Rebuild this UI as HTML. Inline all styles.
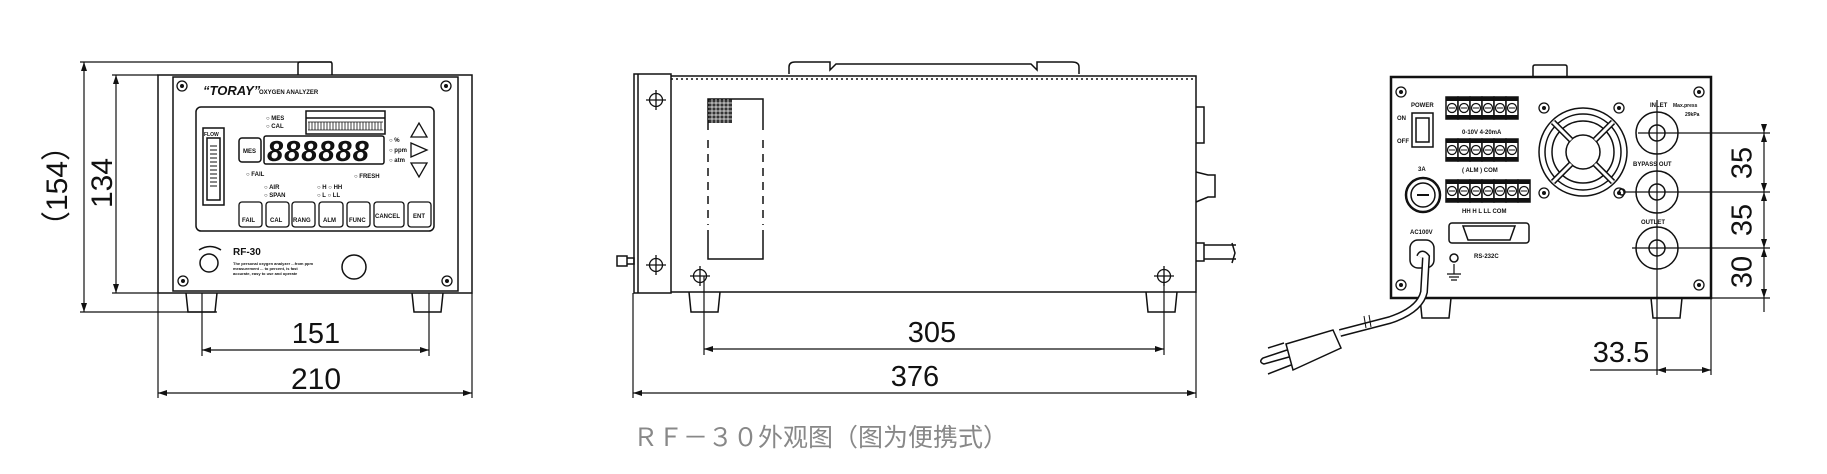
<!DOCTYPE html>
<html><head><meta charset="utf-8"><style>
html,body{margin:0;padding:0;background:#fff;width:1827px;height:474px;overflow:hidden}
svg{display:block}
text{font-family:"Liberation Sans","Noto Sans CJK SC",sans-serif}
</style></head><body>
<svg width="1827" height="474" viewBox="0 0 1827 474" xmlns="http://www.w3.org/2000/svg">
<defs>
<g id="scr"><circle r="5" fill="none" stroke="#111" stroke-width="1.3"/><circle r="2" fill="#111"/></g>
<g id="xs"><circle r="6.5" fill="none" stroke="#111" stroke-width="1.3"/><line x1="-10" y1="0" x2="10" y2="0" stroke="#111" stroke-width="1.3"/><line x1="0" y1="-10" x2="0" y2="10" stroke="#111" stroke-width="1.3"/></g>
<g id="term"><rect x="0" y="0" width="12" height="22" fill="#fff" stroke="#111" stroke-width="1.5"/><rect x="0" y="0" width="12" height="4" fill="#111"/><rect x="0" y="18" width="12" height="4" fill="#111"/><circle cx="6" cy="11" r="4.5" fill="#fff" stroke="#111" stroke-width="1.3"/><line x1="3" y1="11" x2="9" y2="11" stroke="#111"/></g>
</defs>
<g fill="none" stroke="#111" stroke-width="1.5">
<!-- FRONT VIEW -->
<path d="M298 75 V64 Q298 62 300 62 H330 Q332 62 332 64 V75"/>
<rect x="158" y="75" width="314" height="218"/>
<rect x="173" y="77" width="285" height="214"/>
<rect x="196" y="107" width="238" height="124" rx="5"/>
<path d="M186 293 L188 312 H215 L217 293 M412 293 L414 312 H441 L443 293"/>
<rect x="264" y="136" width="120" height="28" rx="2"/>
<rect x="239" y="138" width="22" height="24" rx="3"/>
<rect x="306" y="111" width="79" height="23"/>
<line x1="306" y1="118" x2="385" y2="118"/>
<rect x="203" y="128" width="21" height="77"/>
<rect x="207" y="138" width="13" height="62"/>
<path d="M411 137 L419 123 L427 137 Z M411 143 L427 150 L411 157 Z M411 163 L427 163 L419 177 Z" stroke-width="1.3"/>
<g stroke-width="1.3">
<rect x="239" y="202" width="23" height="25" rx="3"/><rect x="266" y="202" width="23" height="25" rx="3"/>
<rect x="292" y="202" width="23" height="25" rx="3"/><rect x="319" y="202" width="24" height="25" rx="3"/>
<rect x="347" y="202" width="23" height="25" rx="3"/><rect x="374" y="202" width="30" height="25" rx="3"/>
<rect x="408" y="202" width="23" height="25" rx="3"/>
</g>
<circle cx="209" cy="263" r="9"/><path d="M199 250 Q210 243 221 250"/>
<circle cx="354" cy="267" r="12"/>
<g stroke-width="1.2">
<path d="M80 62 H332 M80 312 H217 M112 75 H158 M112 293 H158"/>
<path d="M84 62 V312 M116 75 V293"/>
<path d="M202 293 V356 M429 293 V356 M202 350 H429"/>
<path d="M158 293 V398 M472 293 V398 M158 393 H472"/>
</g>
</g>
<path d="M308 122 H383 M308 130 H383" stroke="#111" stroke-width="0.8"/>
<path d="M309 122 V130 M312 122 V130 M315 122 V130 M318 122 V130 M321 122 V130 M324 122 V130 M327 122 V130 M330 122 V130 M333 122 V130 M336 122 V130 M339 122 V130 M342 122 V130 M345 122 V130 M348 122 V130 M351 122 V130 M354 122 V130 M357 122 V130 M360 122 V130 M363 122 V130 M366 122 V130 M369 122 V130 M372 122 V130 M375 122 V130 M378 122 V130 M381 122 V130" stroke="#111" stroke-width="0.8"/>
<path d="M210 146 H217 M210 150 H217 M210 154 H217 M210 158 H217 M210 162 H217 M210 166 H217 M210 170 H217 M210 174 H217 M210 178 H217 M210 182 H217 M210 186 H217" stroke="#111" stroke-width="1"/>
<g fill="#111">
<path d="M84 62 l-3 9 h6z M84 312 l-3 -9 h6z M116 75 l-3 9 h6z M116 293 l-3 -9 h6z"/>
<path d="M202 350 l9 -3 v6z M429 350 l-9 -3 v6z M158 393 l9 -3 v6z M472 393 l-9 -3 v6z"/>
</g>
<use href="#scr" x="182" y="86"/><use href="#scr" x="446" y="86"/><use href="#scr" x="183" y="281"/><use href="#scr" x="447" y="281"/>
<g fill="#111" font-weight="bold">
<text x="203" y="95" font-size="13" font-style="italic">“TORAY”</text>
<text x="259" y="94" font-size="6">OXYGEN ANALYZER</text>
<text x="266" y="120" font-size="6">○ MES</text><text x="266" y="128" font-size="6">○ CAL</text>
<text x="243" y="153" font-size="6">MES</text>
<text x="267" y="161" font-size="29" font-style="italic" letter-spacing="1">888888</text>
<text x="204" y="136" font-size="5">FLOW</text>
<text x="389" y="142" font-size="6">○ %</text><text x="389" y="152" font-size="6">○ ppm</text><text x="389" y="162" font-size="6">○ atm</text>
<text x="246" y="176" font-size="6">○ FAIL</text><text x="354" y="178" font-size="6">○ FRESH</text>
<text x="264" y="189" font-size="6">○ AIR</text><text x="264" y="197" font-size="6">○ SPAN</text>
<text x="317" y="189" font-size="6">○ H ○ HH</text><text x="317" y="197" font-size="6">○ L ○ LL</text>
<text x="242" y="222" font-size="6">FAIL</text><text x="270" y="222" font-size="6">CAL</text><text x="293" y="222" font-size="6">RANG</text>
<text x="323" y="222" font-size="6">ALM</text><text x="349" y="222" font-size="6">FUNC</text><text x="375" y="218" font-size="6">CANCEL</text><text x="413" y="218" font-size="6">ENT</text>
<text x="233" y="255" font-size="10">RF-30</text>
<text x="233" y="265" font-size="4">The personal oxygen analyzer ...from ppm</text>
<text x="233" y="270" font-size="4">measurement ... to percent, is fast</text>
<text x="233" y="275" font-size="4">accurate, easy to use and operate</text>
</g>
<g fill="#111">
<text x="59" y="186" font-size="30" text-anchor="middle" transform="rotate(-90 59 186)" dominant-baseline="middle">（154）</text>
<text x="104" y="183" font-size="30" text-anchor="middle" transform="rotate(-90 104 183)" dominant-baseline="middle">134</text>
<text x="316" y="343" font-size="29" text-anchor="middle">151</text>
<text x="316" y="389" font-size="30" text-anchor="middle">210</text>
</g>

<!-- SIDE VIEW -->
<g fill="none" stroke="#111" stroke-width="1.5">
<path d="M789 74 V67 Q789 62 795 62 H830 V70 L836 64 H1031 L1037 70 V62 H1072 Q1079 62 1079 67 V74"/>
<rect x="634" y="74" width="37" height="219"/>
<line x1="638" y1="74" x2="638" y2="293"/>
<path d="M671 76 H1196 V292 H671"/>
<line x1="671" y1="79" x2="1196" y2="79" stroke-dasharray="2 3" stroke-width="1.5"/>
<path d="M708 230 V259 H763 V230 M708 130 V99 H763 V130"/>
<path d="M708 140 V225 M763 140 V225" stroke-dasharray="8 6"/>
<path d="M617 256 h10 v10 h-10z M627 258 h7 v6 h-7"/>
<path d="M1196 107 h8 v36 h-8 M1196 172 l12 3 h7 v22 h-7 l-12 5 M1196 243 h8 v18 h-8 M1204 245 h32 M1204 259 h32 M1232 243 l3 10 l-3 10"/>
<path d="M689 292 L691 312 H718 L720 292 M1146 292 L1148 312 H1175 L1177 292"/>
<g stroke-width="1.2">
<path d="M704 276 V355 M1164 276 V355 M704 349 H1164"/>
<path d="M633 293 V398 M1196 292 V398 M633 393 H1196"/>
</g>
</g>
<g fill="#111">
<rect x="708" y="99" width="24" height="24" opacity="0.85"/>
<path d="M704 349 l9 -3 v6z M1164 349 l-9 -3 v6z M633 393 l9 -3 v6z M1196 393 l-9 -3 v6z"/>
</g>
<g stroke="#fff" stroke-width="0.7"><path d="M708 103 H732 M708 107 H732 M708 111 H732 M708 115 H732 M708 119 H732 M712 99 V123 M716 99 V123 M720 99 V123 M724 99 V123 M728 99 V123"/></g>
<use href="#xs" x="656" y="100"/><use href="#xs" x="656" y="265"/><use href="#xs" x="700" y="276"/><use href="#xs" x="1164" y="276"/>
<text x="932" y="342" font-size="29" text-anchor="middle" fill="#111">305</text>
<text x="915" y="386" font-size="29" text-anchor="middle" fill="#111">376</text>
<text x="633" y="446" font-size="25" fill="#888">ＲＦ－３０外观图（图为便携式）</text>

<!-- BACK VIEW -->
<g fill="none" stroke="#111" stroke-width="1.5">
<path d="M1533 77 V67 Q1533 65 1535 65 H1565 Q1567 65 1567 67 V77"/>
<rect x="1391" y="77" width="320" height="221" stroke-width="2.5"/>
<path d="M1420 298 L1422 318 H1449 L1451 298 M1651 298 L1653 318 H1680 L1682 298"/>
<rect x="1412" y="113" width="21" height="34"/><rect x="1416" y="118" width="13" height="24"/>
<circle cx="1423" cy="195" r="17" stroke-width="2.5"/><circle cx="1423" cy="195" r="12"/>
<path d="M1417 195 H1429" stroke-width="2"/>
<rect x="1410" y="240" width="24" height="28" rx="8"/>
<path d="M1420 257 Q1422 252 1426 257 L1424 292 Q1420 310 1390 320 L1340 333" stroke-width="8"/>
<path d="M1420 257 Q1422 252 1426 257 L1424 292 Q1420 310 1390 320 L1340 333" stroke="#fff" stroke-width="5"/>
<path d="M1364 316 l2 12 M1369 315 l2 12" stroke-width="1"/>
<path d="M1286 344 L1333 330 L1341 348 L1293 370 Z"/>
<path d="M1287 350 L1263 358 Q1258 362 1264 364 L1289 357 M1284 343 L1268 348 M1291 365 L1268 374"/>
<rect x="1449" y="223" width="80" height="20" rx="3"/><path d="M1463 226 H1515 L1510 240 H1468 Z"/>
<circle cx="1454" cy="258" r="4"/><path d="M1454 264 V274 M1447 274 H1461 M1449 277 H1459 M1451 280 H1457" stroke-width="1.2"/>
<circle cx="1583" cy="152" r="44"/><circle cx="1583" cy="152" r="38"/><circle cx="1583" cy="152" r="31"/><circle cx="1583" cy="152" r="17"/>
<path d="M1553 122 L1571 140 M1613 122 L1595 140 M1553 182 L1571 164 M1613 182 L1595 164" stroke-width="6"/>
<path d="M1553 122 L1571 140 M1613 122 L1595 140 M1553 182 L1571 164 M1613 182 L1595 164" stroke="#fff" stroke-width="3"/>
<circle cx="1657" cy="133" r="21"/><circle cx="1657" cy="133" r="8"/>
<circle cx="1657" cy="192" r="21"/><circle cx="1657" cy="192" r="8"/>
<circle cx="1657" cy="248" r="21"/><circle cx="1657" cy="248" r="8"/>
<circle cx="1622" cy="192" r="3"/>
<g stroke-width="1.2">
<path d="M1638 133 H1770 M1625 192 H1770 M1632 248 H1770 M1711 298 H1770"/>
<path d="M1657 100 V375 M1711 298 V375 M1764 125 V312 M1590 370 H1711"/>
</g>
</g>
<g fill="#111">
<path d="M1764 133 l-3 9 h6z M1764 133 l-3 -9 h6z M1764 192 l-3 9 h6z M1764 192 l-3 -9 h6z M1764 248 l-3 9 h6z M1764 248 l-3 -9 h6z M1764 298 l-3 -9 h6z"/>
<path d="M1657 370 l9 -3 v6z M1711 370 l-9 -3 v6z"/>
</g>
<g>
<use href="#term" x="1446" y="97"/><use href="#term" x="1458" y="97"/><use href="#term" x="1470" y="97"/><use href="#term" x="1482" y="97"/><use href="#term" x="1494" y="97"/><use href="#term" x="1506" y="97"/>
<use href="#term" x="1446" y="139"/><use href="#term" x="1458" y="139"/><use href="#term" x="1470" y="139"/><use href="#term" x="1482" y="139"/><use href="#term" x="1494" y="139"/><use href="#term" x="1506" y="139"/>
<use href="#term" x="1446" y="180"/><use href="#term" x="1458" y="180"/><use href="#term" x="1470" y="180"/><use href="#term" x="1482" y="180"/><use href="#term" x="1494" y="180"/><use href="#term" x="1506" y="180"/><use href="#term" x="1518" y="180"/>
</g>
<use href="#scr" x="1401" y="92"/><use href="#scr" x="1699" y="92"/><use href="#scr" x="1401" y="285"/><use href="#scr" x="1699" y="285"/>
<use href="#scr" x="1544" y="108"/><use href="#scr" x="1619" y="108"/><use href="#scr" x="1544" y="193"/><use href="#scr" x="1619" y="193"/>
<g fill="#111" font-weight="bold" font-size="6">
<text x="1411" y="107">POWER</text><text x="1397" y="120">ON</text><text x="1397" y="143">OFF</text>
<text x="1418" y="171">3A</text><text x="1410" y="234">AC100V</text>
<text x="1462" y="134">0-10V  4-20mA</text><text x="1462" y="172">(  ALM  )  COM</text><text x="1462" y="213">HH  H  L  LL  COM</text>
<text x="1474" y="258">RS-232C</text>
<text x="1650" y="107">INLET</text><text x="1673" y="107" font-size="5">Max.press</text><text x="1685" y="116" font-size="5">29kPa</text>
<text x="1633" y="166">BYPASS OUT</text><text x="1641" y="224">OUTLET</text>
</g>
<g fill="#111" font-size="29">
<text x="1744" y="163" text-anchor="middle" dominant-baseline="middle" transform="rotate(-90 1744 163)">35</text>
<text x="1744" y="220" text-anchor="middle" dominant-baseline="middle" transform="rotate(-90 1744 220)">35</text>
<text x="1744" y="272" text-anchor="middle" dominant-baseline="middle" transform="rotate(-90 1744 272)">30</text>
<text x="1621" y="362" text-anchor="middle">33.5</text>
</g>
</svg>
</body></html>
